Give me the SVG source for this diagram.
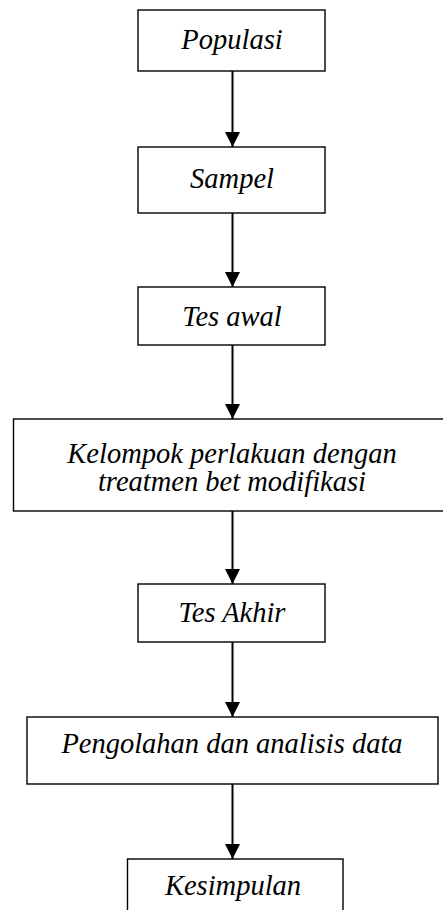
<svg xmlns="http://www.w3.org/2000/svg" width="443" height="910" viewBox="0 0 443 910">
<style>
.box{fill:#fff;stroke:#000;stroke-width:1.4}
.t{font-family:"Liberation Serif","Times New Roman",serif;font-style:italic;font-size:28.5px;fill:#000;text-anchor:middle}
.c{stroke:#000;stroke-width:2;fill:none}
</style>
<defs>
<marker id="ah" markerUnits="userSpaceOnUse" markerWidth="16" markerHeight="16" viewBox="0 0 16 16" refX="15" refY="8" orient="auto">
<path d="M0,0.5 L15,8 L0,15.5 Z" fill="#000"/>
</marker>
</defs>
<rect width="443" height="910" fill="#fff"/>
<g id="connectors">
<line class="c" x1="232.5" y1="71" x2="232.5" y2="147" marker-end="url(#ah)"/>
<line class="c" x1="232.5" y1="213" x2="232.5" y2="287" marker-end="url(#ah)"/>
<line class="c" x1="232.5" y1="345" x2="232.5" y2="419" marker-end="url(#ah)"/>
<line class="c" x1="232.5" y1="511" x2="232.5" y2="584" marker-end="url(#ah)"/>
<line class="c" x1="232.5" y1="642" x2="232.5" y2="717" marker-end="url(#ah)"/>
<line class="c" x1="232.5" y1="784" x2="232.5" y2="859" marker-end="url(#ah)"/>
</g>
<g id="populasi">
<rect class="box" x="138" y="10" width="187" height="61"/>
<text class="t" x="232" y="49">Populasi</text>
</g>
<g id="sampel">
<rect class="box" x="138" y="147" width="187" height="66"/>
<text class="t" x="232" y="188">Sampel</text>
</g>
<g id="tes-awal">
<rect class="box" x="138" y="287" width="187" height="58"/>
<text class="t" x="232" y="326">Tes awal</text>
</g>
<g id="kelompok">
<rect class="box" x="13.5" y="419" width="438" height="92"/>
<text class="t" x="232" y="463">Kelompok perlakuan dengan</text>
<text class="t" x="232" y="491">treatmen bet modifikasi</text>
</g>
<g id="tes-akhir">
<rect class="box" x="138" y="584" width="187" height="58"/>
<text class="t" x="232" y="622">Tes Akhir</text>
</g>
<g id="pengolahan">
<rect class="box" x="27" y="717" width="411" height="67"/>
<text class="t" x="232" y="753">Pengolahan dan analisis data</text>
</g>
<g id="kesimpulan">
<rect class="box" x="127.5" y="859" width="215.5" height="70"/>
<text class="t" x="233" y="895">Kesimpulan</text>
</g>
</svg>
